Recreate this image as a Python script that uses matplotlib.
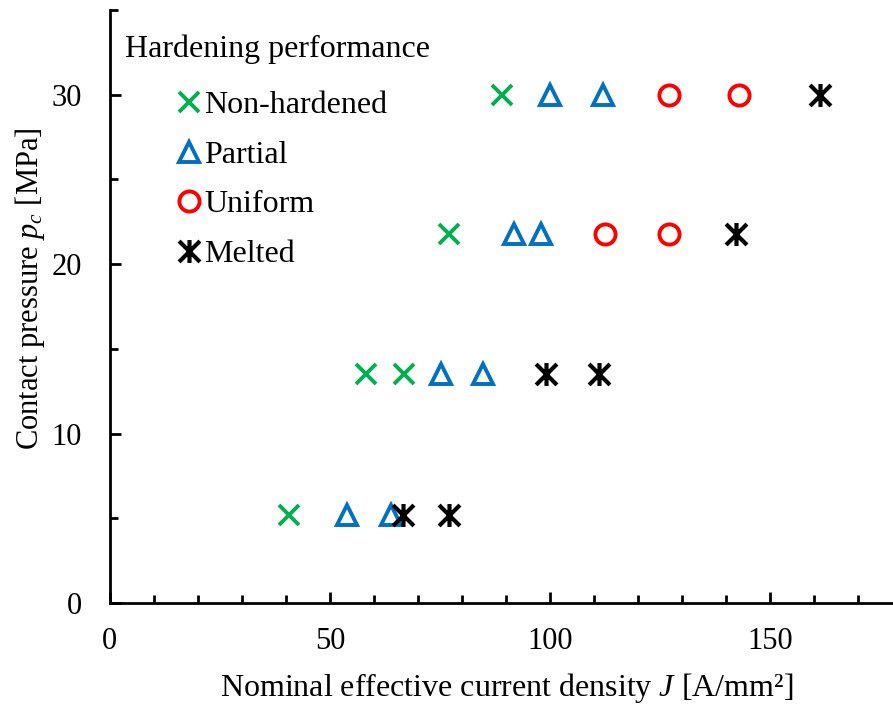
import matplotlib
matplotlib.use("Agg")
import matplotlib.pyplot as plt
from matplotlib.path import Path
from matplotlib.ticker import MultipleLocator

plt.rcParams['font.family'] = ['Liberation Serif', 'DejaVu Serif']
plt.rcParams['mathtext.fontset'] = 'custom'
plt.rcParams['mathtext.rm'] = 'Liberation Serif'
plt.rcParams['mathtext.it'] = 'Liberation Serif:italic'

# contact pressure levels (MPa) and current densities (A/mm2) per result
non_hardened_J = [40.7, 58.2, 66.8, 77.0, 89.1]
non_hardened_p = [5.2, 13.5, 13.5, 21.8, 30.0]
partial_J = [53.9, 63.9, 75.2, 84.8, 91.8, 98.0, 100.0, 112.0]
partial_p = [5.2, 5.2, 13.5, 13.5, 21.8, 21.8, 30.0, 30.0]
uniform_J = [112.5, 127.0, 127.0, 143.0]
uniform_p = [21.8, 21.8, 30.0, 30.0]
melted_J = [66.6, 77.0, 99.1, 111.1, 142.3, 161.4]
melted_p = [5.2, 5.2, 13.5, 13.5, 21.8, 30.0]

# six-armed star: X with a vertical bar
star = Path([(-1, -1), (1, 1), (-1, 1), (1, -1), (0, -1.1), (0, 1.1)],
            [Path.MOVETO, Path.LINETO, Path.MOVETO, Path.LINETO, Path.MOVETO, Path.LINETO])

fig = plt.figure(figsize=(8.93, 7.04), dpi=100)
ax = fig.add_axes([0.123, 0.1435, 0.877, 0.8425])

ax.plot(non_hardened_J, non_hardened_p, ls='none', marker='x', ms=14, mew=2.8,
        color='#00B050', label='Non-hardened')
ax.plot(partial_J, partial_p, ls='none', marker='^', ms=14, mew=2.8, mfc='none',
        color='#0070C0', label='Partial')
ax.plot(uniform_J, uniform_p, ls='none', marker='o', ms=14.5, mew=2.8, mfc='none',
        color='#FF0000', label='Uniform')
ax.plot(melted_J, melted_p, ls='none', marker=star, ms=16.5, mew=3,
        color='black', label='Melted')

ax.set_xlim(0, 178)
ax.set_ylim(0, 35)
ax.xaxis.set_major_locator(MultipleLocator(50))
ax.xaxis.set_minor_locator(MultipleLocator(10))
ax.yaxis.set_major_locator(MultipleLocator(10))
ax.yaxis.set_minor_locator(MultipleLocator(5))
ax.tick_params(which='both', direction='in', width=2, labelsize=22)
ax.tick_params(axis='x', pad=17)
ax.tick_params(axis='y', pad=20)
ax.tick_params(which='major', length=8)
ax.tick_params(which='minor', length=6)
ax.spines[['top', 'right']].set_visible(False)
ax.spines[['left', 'bottom']].set_linewidth(2)

ax.set_xlabel('Nominal effective current density $\\mathit{J}$ [A/mm²]', fontsize=23)
ax.set_ylabel('Contact pressure $\\mathit{p_c}$ [MPa]', fontsize=22)
ax.xaxis.set_label_coords(0.507, -0.115)
ax.yaxis.set_label_coords(-0.08, 0.53)

ax.text(0.019, 0.934, 'Hardening performance', transform=ax.transAxes,
        fontsize=23, va='center')
ax.legend(loc='upper left', bbox_to_anchor=(0.079, 0.863), frameon=False, fontsize=23,
          handlelength=1.1, handletextpad=-0.08, labelspacing=0.63, borderaxespad=0,
          borderpad=0, markerscale=1.0)

fig.savefig('out.png', dpi=100)
